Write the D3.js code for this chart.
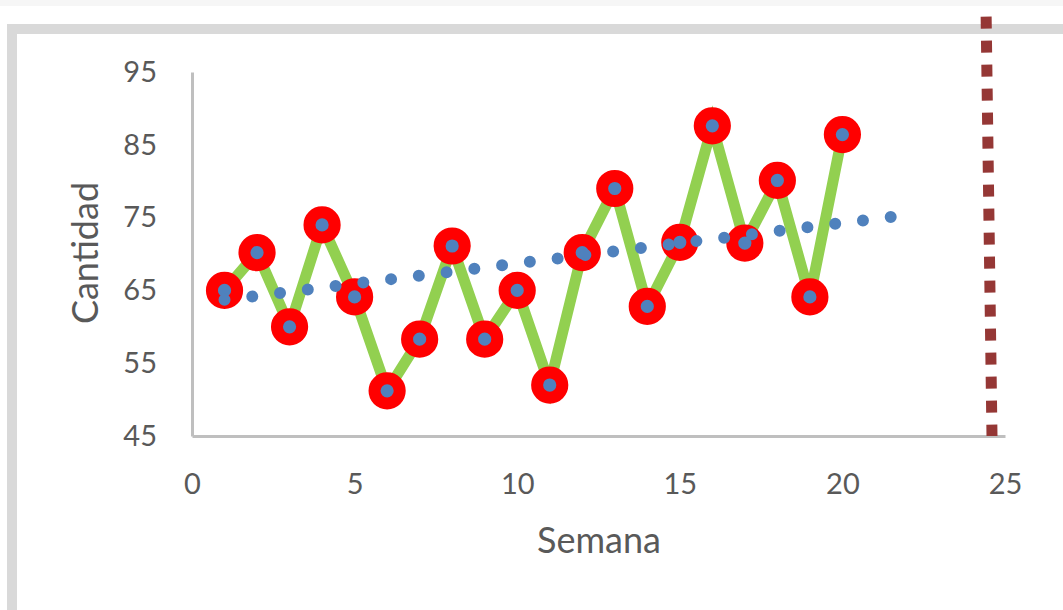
<!DOCTYPE html>
<html>
<head>
<meta charset="utf-8">
<script src="https://cdn.jsdelivr.net/npm/d3@7/dist/d3.min.js"></script>
<style>
  html, body { margin: 0; padding: 0; background: #ffffff; }
  svg { display: block; }
  text { font-family: Lato, "Open Sans", sans-serif; fill: #595959; }
</style>
</head>
<body>
<svg id="chart" width="1063" height="610"></svg>
<script>
// ---- data ----
const weeks = [1,2,3,4,5,6,7,8,9,10,11,12,13,14,15,16,17,18,19,20];
const cantidad = [65.0,70.2,60.0,74.0,64.1,51.2,58.3,71.1,58.3,65.0,52.0,70.2,79.0,62.8,71.6,87.6,71.5,80.1,64.1,86.4];
const trendX = [1, 21.5];
const trendY = [63.7, 75.1];
const limitX = [24.42, 24.6];
const limitY = [102.6, 45];
const xTicks = [0,5,10,15,20,25];
const yTicks = [45,55,65,75,85,95];
const xTitle = "Semana";
const yTitle = "Cantidad";

const svg = d3.select("#chart");

// frame / background decoration
svg.append("rect").attr("x",0).attr("y",0).attr("width",1063).attr("height",6).attr("fill","#f6f6f6");
svg.append("path").attr("d","M7,29 H1063 M12,29 V610").attr("fill","none")
   .attr("stroke","#d9d9d9").attr("stroke-width",10);

const x = d3.scaleLinear().domain([0,25]).range([192,1005]);
const y = d3.scaleLinear().domain([45,95]).range([436,72]);

// axes
const yAxis = svg.append("g").attr("transform","translate(192,0)")
  .call(d3.axisLeft(y).tickValues(yTicks).tickSize(0).tickSizeOuter(0).tickPadding(35));
const xAxis = svg.append("g").attr("transform","translate(0,436)")
  .call(d3.axisBottom(x).tickValues(xTicks).tickSize(0).tickSizeOuter(0).tickPadding(37));
[yAxis, xAxis].forEach(g => {
  g.select(".domain").attr("stroke","#bfbfbf").attr("stroke-width",3);
  g.selectAll("text").attr("font-size",29).attr("fill","#595959")
   .attr("font-family","Lato, 'Open Sans', sans-serif");
});

// axis titles
svg.append("text").attr("x",599).attr("y",553).attr("text-anchor","middle")
  .attr("font-size",36).text(xTitle);
svg.append("text").attr("transform","translate(98,253) rotate(-90)")
  .attr("text-anchor","middle").attr("font-size",36).text(yTitle);

const pts = weeks.map((w,i) => [w, cantidad[i]]);

// data line
svg.append("path").datum(pts)
  .attr("d", d3.line().x(d => x(d[0])).y(d => y(d[1])))
  .attr("fill","none").attr("stroke","#92d050").attr("stroke-width",11)
  .attr("stroke-linejoin","miter");

// markers
svg.append("g").selectAll("circle").data(pts).join("circle")
  .attr("cx", d => x(d[0])).attr("cy", d => y(d[1]))
  .attr("r", 12.6).attr("fill","#4f81bd").attr("stroke","#ff0000").attr("stroke-width",12);

// trend line (round dots)
const trendPts = trendX.map((v,i) => [v, trendY[i]]);
const trendPath = svg.append("path").datum(trendPts)
  .attr("d", d3.line().x(d => x(d[0])).y(d => y(d[1])))
  .attr("fill","none").attr("stroke","#4f81bd").attr("stroke-width",12)
  .attr("stroke-linecap","round");
const tl = trendPath.node().getTotalLength();
trendPath.attr("stroke-dasharray", `0 ${tl/24 - 0.02}`);

// limit line (square dots)
const limitPts = limitX.map((v,i) => [v, limitY[i]]);
svg.append("path").datum(limitPts)
  .attr("d", d3.line().x(d => x(d[0])).y(d => y(d[1])))
  .attr("fill","none").attr("stroke","#953735").attr("stroke-width",11)
  .attr("stroke-dasharray","12 12");
</script>
</body>
</html>
